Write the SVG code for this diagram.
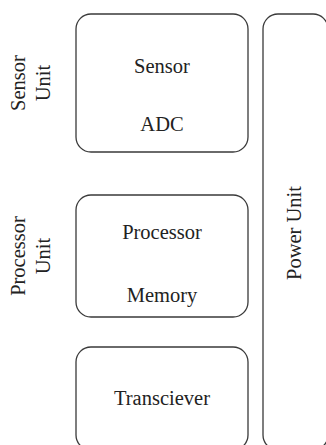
<svg xmlns="http://www.w3.org/2000/svg" width="326" height="445" viewBox="0 0 326 445">
<style>
.box{fill:none;stroke:#3a3a3a;stroke-width:1.3}
.t{font-family:"Liberation Serif","Times New Roman",serif;font-size:20.5px;fill:#222;text-anchor:middle}
</style>
<rect width="326" height="445" fill="#fff"/>
<g id="sensor-unit">
<rect class="box" x="76" y="14" width="172" height="138" rx="15" ry="15"/>
<text class="t" x="162" y="73">Sensor</text>
<text class="t" x="162" y="131">ADC</text>
</g>
<g id="processor-unit">
<rect class="box" x="76" y="195" width="172" height="122" rx="15" ry="15"/>
<text class="t" x="162" y="239">Processor</text>
<text class="t" x="162" y="302">Memory</text>
</g>
<g id="transceiver">
<rect class="box" x="76" y="347" width="172" height="103" rx="15" ry="15"/>
<text class="t" x="162" y="405">Transciever</text>
</g>
<g id="power-unit">
<rect class="box" x="263" y="14" width="65" height="436" rx="15" ry="15"/>
<text class="t" transform="translate(301,233) rotate(-90)">Power Unit</text>
</g>
<g id="labels">
<text class="t" transform="translate(25,83) rotate(-90)">Sensor</text>
<text class="t" transform="translate(50,83) rotate(-90)">Unit</text>
<text class="t" transform="translate(25,256) rotate(-90)">Processor</text>
<text class="t" transform="translate(50,256) rotate(-90)">Unit</text>
</g>
<g id="connectors"></g>
</svg>
